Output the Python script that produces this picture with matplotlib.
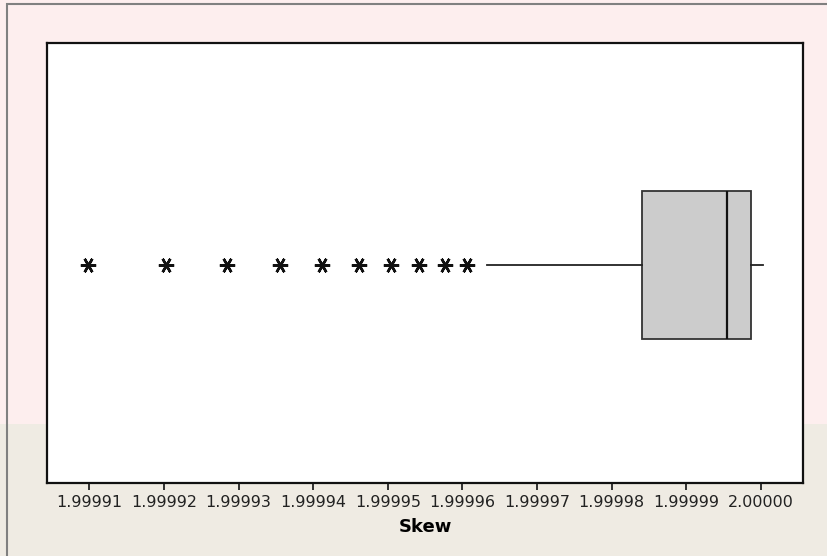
import matplotlib
matplotlib.use("Agg")
import matplotlib.pyplot as plt
from matplotlib.patches import Rectangle

# Skew values summarised as a box plot
q1 = 1.9999841
median = 1.9999954
q3 = 1.9999986
whisker_low = 1.9999633
whisker_high = 2.0000003
outliers = [1.9999098, 1.9999203, 1.9999285, 1.9999356, 1.9999412,
            1.9999461, 1.9999504, 1.9999542, 1.9999577, 1.9999606]

tick_values = [1.99991, 1.99992, 1.99993, 1.99994, 1.99995,
               1.99996, 1.99997, 1.99998, 1.99999, 2.00000]
tick_labels = ["%.5f" % v for v in tick_values]

plt.rcParams['font.family'] = ['DejaVu Sans']

fig = plt.figure(figsize=(8.28, 5.56), dpi=100)
fig.patch.set_facecolor("#fdeeee")

# Lower band of the background and the outer frame
fig.patches.append(Rectangle((0, 0), 1, 132 / 556, transform=fig.transFigure,
                             facecolor="#efebe3", edgecolor="none", zorder=0))
fig.patches.append(Rectangle((7 / 828, -0.1), 1.2, 1.1 - 4 / 556,
                             transform=fig.transFigure, facecolor="none",
                             edgecolor="#808080", linewidth=1.5, zorder=1))

ax = fig.add_axes([47 / 828, 73 / 556, 756 / 828, 440 / 556])
ax.set_zorder(5)
ax.set_facecolor("white")

stats = [{
    "med": median,
    "q1": q1,
    "q3": q3,
    "whislo": whisker_low,
    "whishi": whisker_high,
    "fliers": outliers,
}]
ax.bxp(stats, positions=[0.496], widths=0.336, vert=False, showcaps=False,
       patch_artist=True,
       boxprops=dict(facecolor="#cccccc", edgecolor="#333333", linewidth=1.3),
       medianprops=dict(color="#111111", linewidth=1.6),
       whiskerprops=dict(color="#222222", linewidth=1.3),
       flierprops=dict(marker=(6, 2, 90), markersize=11, markeredgewidth=1.8,
                       markeredgecolor="#111111", linestyle="none"))

ax.set_ylim(0, 1)
ax.set_xlim(1.99990433, 2.00000563)
ax.set_xticks(tick_values)
ax.set_xticklabels(tick_labels)
ax.set_yticks([])
ax.tick_params(axis="x", direction="out", length=5, width=1.3, pad=3.5,
               labelsize=11.5, colors="#222222")
for side in ax.spines.values():
    side.set_linewidth(1.6)
    side.set_color("#111111")

ax.set_xlabel("Skew", fontsize=13, fontweight="bold", labelpad=6)

fig.savefig("out.png", dpi=100, facecolor=fig.get_facecolor())
